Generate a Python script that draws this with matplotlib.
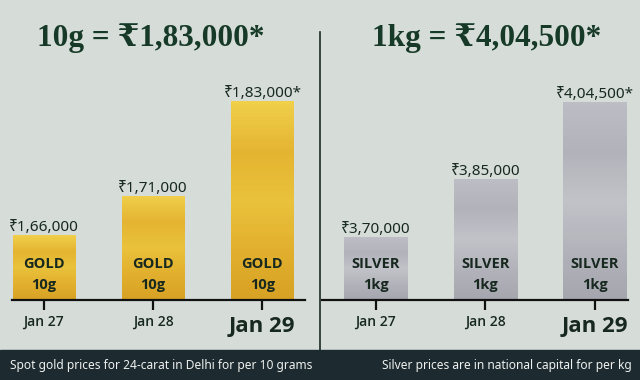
import numpy as np
import matplotlib
matplotlib.use("Agg")
import matplotlib.pyplot as plt
from matplotlib.colors import LinearSegmentedColormap

# data
dates = ["Jan 27", "Jan 28", "Jan 29"]
gold_prices = [166000, 171000, 183000]
gold_labels = ["₹1,66,000", "₹1,71,000", "₹1,83,000*"]
silver_prices = [370000, 385000, 404500]
silver_labels = ["₹3,70,000", "₹3,85,000", "₹4,04,500*"]
gold_title = "10g = ₹1,83,000*"
silver_title = "1kg = ₹4,04,500*"
gold_note = "Spot gold prices for 24-carat in Delhi for per 10 grams"
silver_note = "Silver prices are in national capital for per kg"

BG = "#d6ddd8"
DARK = "#17281f"
SANS = ["Noto Sans", "DejaVu Sans"]
BOLD = ["Open Sans", "DejaVu Sans"]
SERIF = ["Liberation Serif", "DejaVu Serif", "DejaVu Sans"]

gold_cmap = LinearSegmentedColormap.from_list(
    "gold", ["#d8a224", "#e2b02e", "#eac23c", "#e4b431", "#f0cf4a"])
silver_cmap = LinearSegmentedColormap.from_list(
    "silver", ["#a6a6af", "#b3b3bb", "#c2c2c9", "#b2b2ba", "#bdbdc5"])


def draw_panel(ax, values, labels, metal, unit, cmap, ylim, xlim, width):
    x = np.arange(len(values))
    bars = ax.bar(x, values, width=width, color="none", edgecolor="none")
    grad = np.linspace(0, 1, 64).reshape(-1, 1)
    for bar, lab in zip(bars, labels):
        x0, w = bar.get_x(), bar.get_width()
        top = bar.get_height()
        im = ax.imshow(grad, cmap=cmap, aspect="auto", origin="lower",
                       extent=(x0, x0 + w, ylim[0], top), zorder=2)
        im.set_clip_path(bar)
        ax.text(x0 + w / 2, top, lab, ha="center", va="bottom",
                fontsize=11, family=SANS, color=DARK)
    ax.set_xlim(*xlim)
    ax.set_ylim(*ylim)
    ax.set_facecolor("none")
    for s in ["top", "right", "left"]:
        ax.spines[s].set_visible(False)
    ax.spines["bottom"].set_linewidth(1.6)
    ax.spines["bottom"].set_color("#111111")
    ax.set_yticks([])
    ax.set_xticks(x)
    ax.set_xticklabels([])
    ax.tick_params(axis="x", length=7, width=1.6, color="#111111")
    for i, d in enumerate(dates):
        big = i == len(dates) - 1
        ax.annotate(d, (i, ylim[0]), xycoords="data",
                    xytext=(0, -19 if big else -16), textcoords="offset points",
                    ha="center", va="center", family=BOLD,
                    fontsize=16 if big else 10,
                    fontweight="bold" if big else "semibold", color=DARK)
        ax.annotate(metal, (i, ylim[0]), xycoords="data", xytext=(0, 26),
                    textcoords="offset points", ha="center", va="center",
                    family=BOLD, fontsize=10.5, fontweight="bold", color=DARK,
                    zorder=3)
        ax.annotate(unit, (i, ylim[0]), xycoords="data", xytext=(0, 11),
                    textcoords="offset points", ha="center", va="center",
                    family=BOLD, fontsize=10.5, fontweight="bold", color=DARK,
                    zorder=3)


fig = plt.figure(figsize=(6.4, 3.8), dpi=100)
fig.patch.set_facecolor(BG)

W, H = 640, 380
base = 80 / H
ax_h = 210 / H

ax1 = fig.add_axes([12 / W, base, 293 / W, ax_h])
draw_panel(ax1, gold_prices, gold_labels, "GOLD", "10g", gold_cmap,
           (157800, 157800 + 210 / 7.88 * 1000), (-0.29, 2.39), 0.57)

ax2 = fig.add_axes([322 / W, base, 306 / W, ax_h])
draw_panel(ax2, silver_prices, silver_labels, "SILVER", "1kg", silver_cmap,
           (354100, 354100 + 210 / 3.932 * 1000), (-0.49, 2.3), 0.58)

# divider and footer
fig.add_artist(plt.Line2D([320 / W, 320 / W], [30 / H, 1 - 32 / H],
                          color="#1c2a26", lw=1.2))
fig.add_artist(plt.Rectangle((0, 0), 1, 30 / H, color="#1d2a30",
                             transform=fig.transFigure, zorder=5))
fig.text(10 / W, 15 / H, gold_note, ha="left", va="center", fontsize=8.6,
         family=SANS, color="#eef1ef", zorder=6)
fig.text(632 / W, 15 / H, silver_note, ha="right", va="center", fontsize=8.6,
         family=SANS, color="#eef1ef", zorder=6)

fig.text(151 / W, 1 - 38 / H, gold_title, ha="center", va="center",
         fontsize=22.5, fontweight="bold", family=SERIF, color="#173a28")
fig.text(487 / W, 1 - 38 / H, silver_title, ha="center", va="center",
         fontsize=22.5, fontweight="bold", family=SERIF, color="#173a28")

fig.savefig("out.png", dpi=100, facecolor=BG)
